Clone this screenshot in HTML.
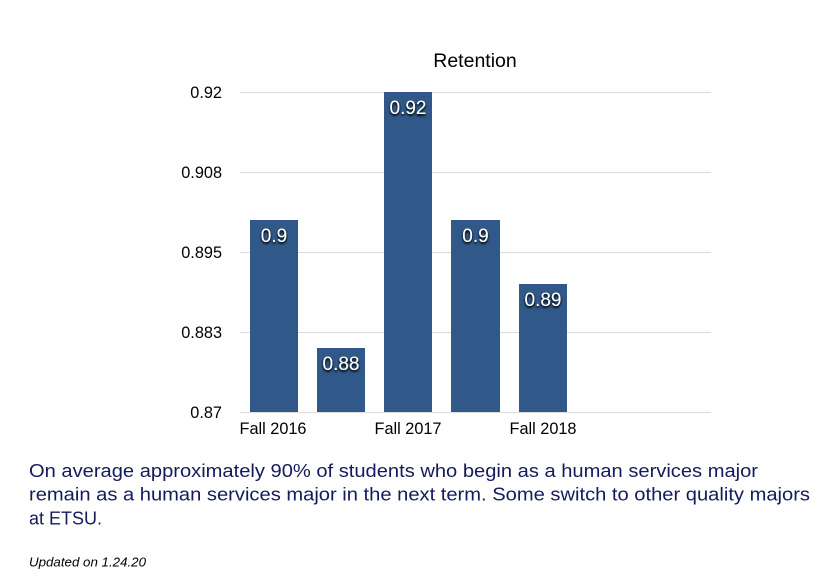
<!DOCTYPE html>
<html>
<head>
<meta charset="utf-8">
<style>
  html, body { margin: 0; padding: 0; background: #ffffff; }
  body { width: 836px; height: 584px; overflow: hidden; }
  svg { display: block; }
  text { font-family: "Liberation Sans", Arial, Helvetica, sans-serif; }
</style>
</head>
<body>
<svg width="836" height="584" viewBox="0 0 836 584" xmlns="http://www.w3.org/2000/svg">
  <defs>
    <filter id="sh" x="-20%" y="-30%" width="140%" height="170%">
      <feGaussianBlur in="SourceAlpha" stdDeviation="1.2"/>
      <feOffset dx="0" dy="1.6" result="b"/>
      <feComponentTransfer><feFuncA type="linear" slope="1.4"/></feComponentTransfer>
      <feMerge><feMergeNode/><feMergeNode in="SourceGraphic"/></feMerge>
    </filter>
  </defs>
  <rect width="836" height="584" fill="#ffffff"/>

  <!-- title -->
  <text x="475" y="67" font-size="19.5" text-anchor="middle" fill="#000">Retention</text>

  <!-- gridlines -->
  <g stroke="#dcdcdc" stroke-width="1">
    <line x1="240" y1="92.5" x2="711" y2="92.5"/>
    <line x1="240" y1="172.5" x2="711" y2="172.5"/>
    <line x1="240" y1="252.5" x2="711" y2="252.5"/>
    <line x1="240" y1="332.5" x2="711" y2="332.5"/>
    <line x1="240" y1="412.5" x2="711" y2="412.5"/>
  </g>

  <!-- y labels -->
  <g font-size="16.3" text-anchor="end" fill="#000">
    <text x="222" y="98">0.92</text>
    <text x="222" y="178">0.908</text>
    <text x="222" y="258">0.895</text>
    <text x="222" y="338">0.883</text>
    <text x="222" y="418">0.87</text>
  </g>

  <!-- bars -->
  <g fill="#30598a">
    <rect x="250" y="220" width="48" height="192"/>
    <rect x="317" y="348" width="48" height="64"/>
    <rect x="384" y="92" width="48" height="320"/>
    <rect x="451" y="220" width="49" height="192"/>
    <rect x="519" y="284" width="48" height="128"/>
  </g>

  <!-- bar value labels -->
  <g font-size="19" text-anchor="middle" fill="#ffffff" filter="url(#sh)">
    <text x="274" y="242">0.9</text>
    <text x="341" y="370">0.88</text>
    <text x="408" y="114">0.92</text>
    <text x="475.5" y="242">0.9</text>
    <text x="543" y="306">0.89</text>
  </g>

  <!-- x labels -->
  <g font-size="16.3" text-anchor="middle" fill="#000">
    <text x="273" y="434">Fall 2016</text>
    <text x="408" y="434">Fall 2017</text>
    <text x="543" y="434">Fall 2018</text>
  </g>

  <!-- paragraph -->
  <g font-size="18" fill="#131b5c">
    <text x="29" y="477" textLength="729" lengthAdjust="spacingAndGlyphs">On average approximately 90% of students who begin as a human services major</text>
    <text x="29" y="500.5" textLength="781" lengthAdjust="spacingAndGlyphs">remain as a human services major in the next term. Some switch to other quality majors</text>
    <text x="29" y="524.3">at ETSU.</text>
  </g>

  <text x="29" y="566.5" font-size="12.5" font-style="italic" fill="#000" textLength="117" lengthAdjust="spacingAndGlyphs">Updated on 1.24.20</text>
</svg>
</body>
</html>
